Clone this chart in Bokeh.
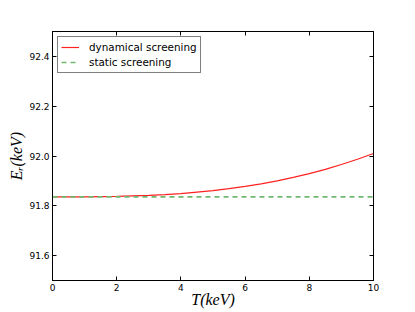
from bokeh.plotting import figure
from bokeh.models import (Range1d, LinearAxis, Legend, LegendItem, FixedTicker,
                          PrintfTickFormatter)
from bokeh.embed import file_html
from bokeh.resources import INLINE

T_keV = [0.0, 0.5, 1.0, 1.5, 2.0, 2.5, 3.0, 3.5, 4.0, 4.5, 5.0,
         5.5, 6.0, 6.5, 7.0, 7.5, 8.0, 8.5, 9.0, 9.5, 10.0]
E_dynamical = [91.836, 91.836, 91.836, 91.837, 91.838, 91.840, 91.842, 91.845,
               91.849, 91.855, 91.861, 91.869, 91.878, 91.888, 91.900, 91.914,
               91.929, 91.946, 91.966, 91.987, 92.010]
E_static = [91.836] * len(T_keV)
x_ticks = [0, 2, 4, 6, 8, 10]
y_ticks = [91.6, 91.8, 92.0, 92.2, 92.4]
x_title = "T(keV)"
y_title = "Eᵣ(keV)"

p = figure(width=415, height=312, output_backend="svg", toolbar_location=None,
           x_range=Range1d(0, 10), y_range=Range1d(91.5, 92.5),
           min_border_left=52, min_border_right=42, min_border_top=31,
           min_border_bottom=32)
p.background_fill_color = "white"
p.border_fill_color = "white"
p.outline_line_color = "black"
p.outline_line_width = 1
p.xgrid.visible = False
p.ygrid.visible = False

r1 = p.line(T_keV, E_dynamical, line_color="#ff2020", line_width=1.2)
r2 = p.line(T_keV, E_static, line_color="#6fb86f", line_width=1.6, line_dash="5 4")

def style(ax, labels=True):
    ax.major_tick_in = 4
    ax.major_tick_out = 0
    ax.minor_tick_in = 0
    ax.minor_tick_out = 0
    ax.axis_line_color = "black"
    ax.major_tick_line_color = "black"
    ax.major_label_text_font = "DejaVu Sans"
    ax.major_label_text_font_size = "9px"
    ax.major_label_text_color = "black"
    ax.major_label_standoff = 3
    if not labels:
        ax.major_label_text_font_size = "0px"
        ax.major_label_text_alpha = 0
        ax.major_label_standoff = 0

p.xaxis.ticker = FixedTicker(ticks=x_ticks)
p.yaxis.ticker = FixedTicker(ticks=y_ticks)
p.xaxis.formatter = PrintfTickFormatter(format="%d")
p.yaxis.formatter = PrintfTickFormatter(format="%.1f")
style(p.xaxis[0])
style(p.yaxis[0])
p.xaxis.axis_label = x_title
p.yaxis.axis_label = y_title
for ax in (p.xaxis[0], p.yaxis[0]):
    ax.axis_label_text_font = "Liberation Serif"
    ax.axis_label_text_font_style = "italic"
    ax.axis_label_text_font_size = "16px"
    ax.axis_label_text_color = "black"
p.xaxis.axis_label_standoff = -3
p.yaxis.axis_label_standoff = 1

top = LinearAxis(ticker=FixedTicker(ticks=x_ticks))
right = LinearAxis(ticker=FixedTicker(ticks=y_ticks))
style(top, labels=False)
style(right, labels=False)
p.add_layout(top, "above")
p.add_layout(right, "right")

legend = Legend(items=[LegendItem(label="dynamical screening", renderers=[r1]),
                       LegendItem(label="static screening", renderers=[r2])],
                location="top_left")
legend.border_line_color = "black"
legend.border_line_width = 1
legend.background_fill_alpha = 1
legend.label_text_font = "DejaVu Sans"
legend.label_text_font_size = "10.4px"
legend.label_text_color = "black"
legend.label_height = 14
legend.glyph_height = 14
legend.glyph_width = 18
legend.spacing = 1
legend.padding = 3
legend.margin = 5
legend.label_standoff = 10
p.add_layout(legend)

open("out.html", "w").write(file_html(p, INLINE))
